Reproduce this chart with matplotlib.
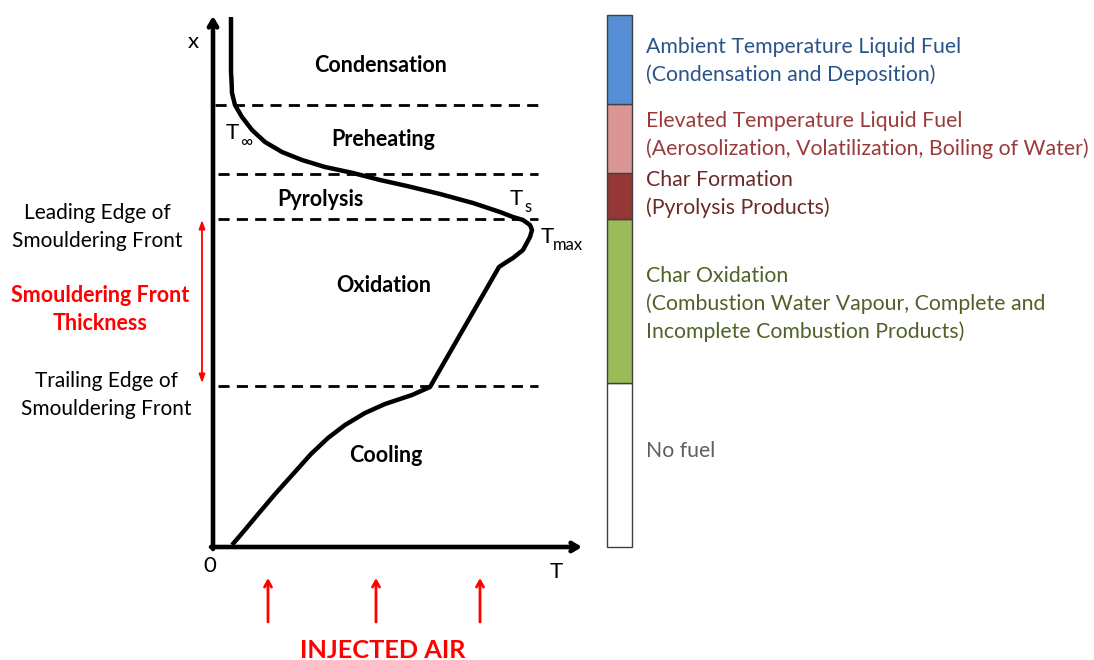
import matplotlib.pyplot as plt

plt.rcParams['font.family'] = ['Lato', 'DejaVu Sans']

# temperature profile T(x), arbitrary units
curve_T = [18, 18, 18.5, 19, 22, 29, 39, 52, 69, 89, 112, 140, 167, 194, 227, 260, 287, 300,
           310, 317, 319, 317, 310, 300, 292, 286,
           217, 199, 172, 152, 132, 115, 98, 81, 63, 46, 31, 19]
curve_x = [530, 475, 467, 454, 442, 430, 417, 405, 395, 387, 380, 374, 367, 361, 353, 344, 335, 330,
           327, 322, 317, 310, 297, 289, 284, 280,
           160, 152, 143, 134, 122, 109, 93, 74, 54, 34, 16, 2]

# zone boundaries (x) and zone names
zone_lines = [161, 328, 373, 442]
zone_names = ['Cooling', 'Oxidation', 'Pyrolysis', 'Preheating', 'Condensation']
zone_label_pos = [(173, 91), (171, 261), (107, 348), (170, 408), (168, 482)]

# fuel state bar
bar_bottoms = [0, 164, 328, 374, 443]
bar_heights = [164, 164, 46, 69, 89]
bar_colors = ['white', '#9BBB59', '#953735', '#D99694', '#558ED5']
bar_texts = [
    ['No fuel'],
    ['Char Oxidation', '(Combustion Water Vapour, Complete and', 'Incomplete Combustion Products)'],
    ['Char Formation', '(Pyrolysis Products)'],
    ['Elevated Temperature Liquid Fuel', '(Aerosolization, Volatilization, Boiling of Water)'],
    ['Ambient Temperature Liquid Fuel', '(Condensation and Deposition)'],
]
bar_text_y = [96, 271, 367, 426, 500]
text_colors = ['#5F5F5F', '#4F6228', '#6B2A2A', '#993B3B', '#2A5489']

air_T = [55, 163, 267]

fig = plt.figure(figsize=(10.94, 6.6), dpi=100)
ax = fig.add_axes([0, 0, 1, 1])
ax.set_xlim(-213, 881)
ax.set_ylim(-113, 547)
ax.axis('off')

# axes arrows
ax.annotate('', xy=(0, 531), xytext=(0, -2),
            arrowprops=dict(arrowstyle='->,head_length=0.5,head_width=0.3', lw=3.3, color='black',
                            shrinkA=0, shrinkB=0))
ax.annotate('', xy=(369, 0), xytext=(-2, 0),
            arrowprops=dict(arrowstyle='->,head_length=0.5,head_width=0.3', lw=3.3, color='black',
                            shrinkA=0, shrinkB=0))

# profile
ax.plot(curve_T, curve_x, color='black', lw=3.2, solid_joinstyle='round', solid_capstyle='butt')

# dashed zone lines
for z in zone_lines:
    start = 2 if z == 442 else 5
    ax.plot([start, 325], [z, z], color='black', lw=2, linestyle=(0, (4, 2.6)))

for name, (tx, ty) in zip(zone_names, zone_label_pos):
    ax.text(tx, ty, name, fontsize=15.5, fontweight='bold', ha='center', va='center')

# temperature labels
ax.text(13, 414, 'T', fontsize=16, ha='left', va='center')
ax.text(27, 405, '∞', fontsize=12, ha='left', va='center')
ax.text(297, 348, 'T', fontsize=16, ha='left', va='center')
ax.text(311, 340, 's', fontsize=12, ha='left', va='center')
ax.text(328, 310, 'T', fontsize=16, ha='left', va='center')
ax.text(340, 302, 'max', fontsize=12, ha='left', va='center')

ax.text(-20, 505, 'x', fontsize=16, ha='center', va='center')
ax.text(-3, -19, '0', fontsize=16, ha='center', va='center')
ax.text(343, -25, 'T', fontsize=16, ha='center', va='center')

# left side annotations
ax.text(-116, 334, 'Leading Edge of', fontsize=15, ha='center', va='center')
ax.text(-116, 306, 'Smouldering Front', fontsize=15, ha='center', va='center')
ax.text(-113, 251, 'Smouldering Front', fontsize=15.5, fontweight='bold', color='red', ha='center', va='center')
ax.text(-113, 224, 'Thickness', fontsize=15.5, fontweight='bold', color='red', ha='center', va='center')
ax.text(-107, 166, 'Trailing Edge of', fontsize=15, ha='center', va='center')
ax.text(-107, 138, 'Smouldering Front', fontsize=15, ha='center', va='center')
ax.annotate('', xy=(-11, 164), xytext=(-11, 327),
            arrowprops=dict(arrowstyle='<|-|>,head_length=0.5,head_width=0.18', lw=1.3, color='red',
                            shrinkA=0, shrinkB=0))

# injected air
for a in air_T:
    ax.annotate('', xy=(a, -31), xytext=(a, -75),
                arrowprops=dict(arrowstyle='->,head_length=0.45,head_width=0.25', lw=2, color='red',
                                shrinkA=0, shrinkB=0))
ax.text(170, -103, 'INJECTED AIR', fontsize=18.3, fontweight='bold', color='red', ha='center', va='center')

# fuel state bar
ax.bar([406.5] * len(bar_heights), bar_heights, bottom=bar_bottoms, width=25,
       color=bar_colors, edgecolor='#404040', lw=1)
for lines, y0, c in zip(bar_texts, bar_text_y, text_colors):
    for k, line in enumerate(lines):
        ax.text(433, y0 - 28 * k, line, fontsize=15.3, color=c, ha='left', va='center')

fig.savefig('out.png', dpi=100)
